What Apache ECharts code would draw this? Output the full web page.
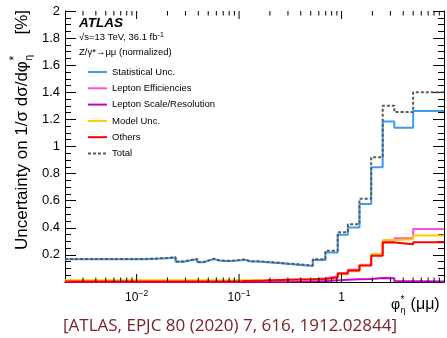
<!DOCTYPE html>
<html>
<head>
<meta charset="utf-8">
<script src="https://cdn.jsdelivr.net/npm/echarts@6/dist/echarts.min.js"></script>
<style>
html, body { margin: 0; padding: 0; background: #fff; }
#chart { width: 447px; height: 338px; }
</style>
</head>
<body>
<div id="chart"></div>
<script>
// bin edges in phi*_eta (first edge clipped to axis min)
const binEdges = [0.002, 0.004, 0.008, 0.012, 0.016, 0.020, 0.024, 0.029, 0.034, 0.039,
  0.045, 0.051, 0.057, 0.064, 0.072, 0.081, 0.091, 0.102, 0.114, 0.128,
  0.145, 0.165, 0.189, 0.219, 0.258, 0.312, 0.391, 0.524, 0.695, 0.918,
  1.153, 1.496, 1.947, 2.522, 3.277, 5.0, 10.0];

const statUnc = [0.168, 0.168, 0.168, 0.172, 0.176, 0.180, 0.150, 0.160, 0.168, 0.146,
  0.158, 0.170, 0.158, 0.155, 0.155, 0.156, 0.160, 0.164, 0.152, 0.152,
  0.150, 0.146, 0.142, 0.138, 0.132, 0.126, 0.118, 0.163, 0.217, 0.348,
  0.402, 0.575, 0.847, 1.185, 1.138, 1.262];

const lepEffUnc = [0.005, 0.005, 0.005, 0.005, 0.005, 0.005, 0.005, 0.005, 0.005, 0.005,
  0.005, 0.005, 0.005, 0.005, 0.005, 0.005, 0.005, 0.005, 0.008, 0.008,
  0.008, 0.008, 0.012, 0.014, 0.016, 0.018, 0.021, 0.027, 0.040, 0.064,
  0.090, 0.127, 0.200, 0.302, 0.322, 0.392];

const lepScaleUnc = [0.002, 0.002, 0.002, 0.002, 0.002, 0.002, 0.002, 0.002, 0.002, 0.002,
  0.002, 0.002, 0.002, 0.002, 0.002, 0.002, 0.002, 0.002, 0.002, 0.002,
  0.002, 0.002, 0.002, 0.002, 0.003, 0.004, 0.006, 0.008, 0.012, 0.016,
  0.020, 0.022, 0.030, 0.028, 0.006, 0.004];

const modelUnc = [0.012, 0.012, 0.012, 0.012, 0.012, 0.012, 0.012, 0.012, 0.012, 0.012,
  0.012, 0.012, 0.012, 0.012, 0.012, 0.012, 0.012, 0.012, 0.012, 0.012,
  0.012, 0.012, 0.012, 0.012, 0.013, 0.015, 0.018, 0.022, 0.034, 0.058,
  0.080, 0.125, 0.207, 0.310, 0.316, 0.343];

const othersUnc = [0.004, 0.004, 0.004, 0.004, 0.004, 0.004, 0.004, 0.004, 0.004, 0.004,
  0.004, 0.004, 0.004, 0.004, 0.004, 0.004, 0.004, 0.007, 0.008, 0.009,
  0.010, 0.012, 0.013, 0.015, 0.017, 0.019, 0.020, 0.023, 0.035, 0.062,
  0.084, 0.121, 0.193, 0.291, 0.278, 0.294];

const totalUnc = [0.170, 0.170, 0.170, 0.174, 0.178, 0.182, 0.152, 0.162, 0.170, 0.148,
  0.160, 0.172, 0.160, 0.157, 0.157, 0.158, 0.162, 0.166, 0.154, 0.154,
  0.152, 0.148, 0.145, 0.141, 0.135, 0.130, 0.122, 0.167, 0.230, 0.368,
  0.427, 0.615, 0.921, 1.300, 1.254, 1.400];

// x-axis tick positions (decade starts are major)
const xDecades = [0.001, 0.01, 0.1, 1];
const xMultipliers = [1, 2, 3, 4, 5, 6, 7, 8, 9];

const yTickLabels = ['', '0.2', '0.4', '0.6', '0.8', '1', '1.2', '1.4', '1.6', '1.8', '2'];

const FONT = '"Liberation Sans", Arial, sans-serif';

// text width helper for the hand-placed titles
const measureCtx = document.createElement('canvas').getContext('2d');
function textW(t, font) {
  measureCtx.font = font;
  return measureCtx.measureText(t).width;
}

// histogram outline as step points
function histPoints(vals) {
  const pts = vals.map((v, i) => [binEdges[i], v]);
  pts.push([binEdges[binEdges.length - 1], vals[vals.length - 1]]);
  return pts;
}

const xTicks = [];
xDecades.forEach((d) => {
  xMultipliers.forEach((m) => {
    const v = +(d * m).toPrecision(3);
    if (v > binEdges[0] && v < binEdges[binEdges.length - 1]) xTicks.push([v, m === 1 ? 1 : 0]);
  });
});

function histSeries(name, vals, color, z, dash) {
  return {
    name,
    type: 'line',
    step: 'end',
    symbol: 'none',
    data: histPoints(vals),
    z,
    lineStyle: { color, width: 2, type: dash || 'solid' },
    itemStyle: { color },
    animation: false,
  };
}

// y title pieces (rotated group)
const yMainFont = '17px ' + FONT;
const yMain = 'Uncertainty on 1/σ dσ/dφ';
const yMainW = textW(yMain, yMainFont);

// x title pieces
const xFont = '14px ' + FONT;
const xPhiW = textW('φ', xFont);
const xIdxX = 391 + xPhiW + 0.5;
const xIdxW = Math.max(textW('*', '10px ' + FONT), textW('η', '9px ' + FONT));

const myChart = echarts.init(document.getElementById('chart'), null, { renderer: 'canvas' });

const option = {
  backgroundColor: '#fff',
  animation: false,
  grid: { left: 65, right: -3, top: 11, bottom: 56 },
  xAxis: [{
    type: 'log',
    min: 0.002,
    max: 10,
    logBase: 10,
    axisLine: { show: true, lineStyle: { color: '#000', width: 1 } },
    axisTick: { show: false },
    splitLine: { show: false },
    axisLabel: {
      margin: 7,
      fontFamily: FONT,
      color: '#000',
      formatter(value) {
        if (Math.abs(value - 0.01) < 1e-6) return '{b|10}{s|−2}';
        if (Math.abs(value - 0.1) < 1e-5) return '{b|10}{s|−1}';
        if (Math.abs(value - 1) < 1e-4) return '{b|1}';
        return '';
      },
      rich: {
        b: { fontSize: 12, fontFamily: FONT, color: '#000', lineHeight: 15, verticalAlign: 'bottom' },
        s: { fontSize: 8.5, fontFamily: FONT, color: '#000', lineHeight: 8, verticalAlign: 'top' },
      },
    },
  }, {
    type: 'log',
    position: 'top',
    min: 0.002,
    max: 10,
    axisLine: { show: true, lineStyle: { color: '#000', width: 1 } },
    axisTick: { show: false },
    axisLabel: { show: false },
    splitLine: { show: false },
  }],
  yAxis: [{
    type: 'value',
    min: 0,
    max: 2,
    interval: 0.2,
    axisLine: { show: true, lineStyle: { color: '#000', width: 1 } },
    axisTick: { show: true, inside: true, length: 11, lineStyle: { color: '#000' } },
    minorTick: { show: true, splitNumber: 4, length: 6, lineStyle: { color: '#000' } },
    splitLine: { show: false },
    axisLabel: {
      margin: 5,
      fontSize: 13,
      fontFamily: FONT,
      color: '#000',
      formatter(value) {
        return yTickLabels[Math.round(value / 0.2)];
      },
    },
  }, {
    type: 'value',
    position: 'right',
    min: 0,
    max: 2,
    interval: 0.2,
    axisLine: { show: true, lineStyle: { color: '#000', width: 1 } },
    axisTick: { show: true, inside: true, length: 11, lineStyle: { color: '#000' } },
    minorTick: { show: true, splitNumber: 4, length: 6, lineStyle: { color: '#000' } },
    splitLine: { show: false },
    axisLabel: { show: false },
  }],
  legend: {
    orient: 'vertical',
    left: 82,
    top: 61,
    itemWidth: 19,
    itemHeight: 8,
    itemGap: 4.3,
    itemStyle: { opacity: 0 },
    textStyle: { fontSize: 9.5, lineHeight: 12, fontFamily: FONT, color: '#000' },
    data: ['Statistical Unc.', 'Lepton Efficiencies', 'Lepton Scale/Resolution', 'Model Unc.', 'Others', 'Total'],
  },
  series: [
    histSeries('Statistical Unc.', statUnc, '#3d9cf2', 3),
    histSeries('Lepton Efficiencies', lepEffUnc, '#ff4fd8', 4),
    histSeries('Lepton Scale/Resolution', lepScaleUnc, '#c800c8', 5),
    histSeries('Model Unc.', modelUnc, '#ffc800', 6),
    histSeries('Others', othersUnc, '#ff0000', 7),
    histSeries('Total', totalUnc, '#5a5a5a', 8, [3, 2]),
    {
      // log-scale x ticks, bottom and top
      type: 'custom',
      silent: true,
      clip: false,
      z: 10,
      data: xTicks,
      renderItem(params, api) {
        const v = api.value(0);
        const major = api.value(1) === 1;
        const len = major ? 8 : 4.5;
        const b = api.coord([v, 0]);
        const t = api.coord([v, 2]);
        const style = { stroke: '#000', lineWidth: 1 };
        return {
          type: 'group',
          children: [
            { type: 'line', shape: { x1: b[0], y1: b[1], x2: b[0], y2: b[1] - len }, style },
            { type: 'line', shape: { x1: t[0], y1: t[1], x2: t[0], y2: t[1] + len }, style },
          ],
        };
      },
    },
  ],
  graphic: [
    {
      type: 'text', left: 79, top: 16,
      style: { text: 'ATLAS', font: 'italic bold 13.5px ' + FONT, fill: '#000' },
    },
    {
      type: 'text', left: 79, top: 32,
      style: {
        text: '√s=13 TeV, 36.1 fb{s|-1}',
        font: '9.5px ' + FONT,
        fill: '#000',
        rich: {
          s: { fontSize: 7, fontFamily: FONT, fill: '#000', verticalAlign: 'top', lineHeight: 8 },
        },
      },
    },
    {
      type: 'text', left: 79, top: 47,
      style: { text: 'Z/γ*→μμ (normalized)', font: '9.5px ' + FONT, fill: '#000' },
    },
    {
      // y-axis title, reads bottom to top
      type: 'group',
      x: 22, y: 250,
      rotation: Math.PI / 2,
      children: [
        { type: 'text', x: 0, y: 0, style: { text: yMain, font: yMainFont, fill: '#000', align: 'left', verticalAlign: 'middle' } },
        { type: 'text', x: yMainW + 0.5, y: -7, style: { text: '*', font: '12px ' + FONT, fill: '#000', align: 'left', verticalAlign: 'middle' } },
        { type: 'text', x: yMainW + 0.5, y: 7, style: { text: 'η', font: '10px ' + FONT, fill: '#000', align: 'left', verticalAlign: 'middle' } },
        { type: 'text', x: 240, y: 0, style: { text: '[%]', font: yMainFont, fill: '#000', align: 'right', verticalAlign: 'middle' } },
      ],
    },
    {
      // x-axis title
      type: 'group',
      children: [
        { type: 'text', x: 391, y: 305, style: { text: 'φ', font: xFont, fill: '#000', align: 'left', verticalAlign: 'middle' } },
        { type: 'text', x: xIdxX, y: 300, style: { text: '*', font: '10px ' + FONT, fill: '#000', align: 'left', verticalAlign: 'middle' } },
        { type: 'text', x: xIdxX, y: 311, style: { text: 'η', font: '9px ' + FONT, fill: '#000', align: 'left', verticalAlign: 'middle' } },
        { type: 'text', x: xIdxX + xIdxW + 5, y: 305, style: { text: '(μμ)', font: '16px ' + FONT, fill: '#000', align: 'left', verticalAlign: 'middle' } },
      ],
    },
    {
      type: 'text', x: 230, y: 326,
      style: {
        text: '[ATLAS, EPJC 80 (2020) 7, 616, 1912.02844]',
        font: '17px "Open Sans", sans-serif',
        fill: '#7a2328',
        align: 'center',
        verticalAlign: 'middle',
      },
    },
  ],
};

myChart.setOption(option);
</script>
</body>
</html>
